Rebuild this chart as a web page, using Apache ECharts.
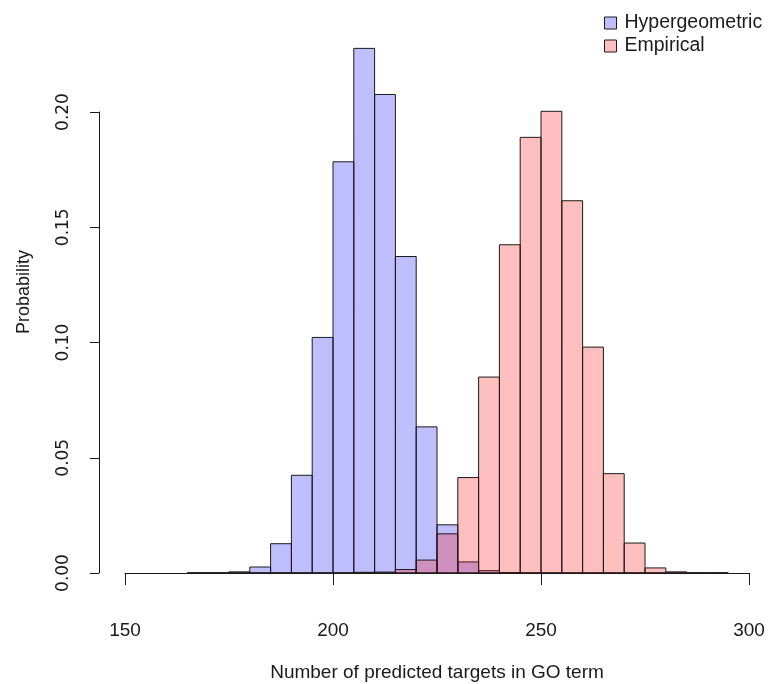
<!DOCTYPE html>
<html>
<head>
<meta charset="utf-8">
<script src="https://cdn.jsdelivr.net/npm/echarts@6/dist/echarts.min.js"></script>
<style>
  html, body { margin: 0; padding: 0; background: #fff; }
  #chart { width: 769px; height: 684px; }
</style>
</head>
<body>
<div id="chart"></div>
<script>
// histogram bins (left edges), width 5
var binStart = [165, 170, 175, 180, 185, 190, 195, 200, 205, 210, 215, 220, 225,
                230, 235, 240, 245, 250, 255, 260, 265, 270, 275, 280, 285, 290];
var binWidth = 5;
var hyperProb = [0, 0, 0.0005, 0.0026, 0.0127, 0.0424, 0.1022, 0.1784, 0.2276, 0.2076, 0.1373, 0.0634, 0.0209,
                 0.0048, 0.0010, 0.0002, 0, 0, 0, 0, 0, 0, 0, 0, 0, 0];
var empProb = [0, 0, 0, 0, 0, 0, 0, 0, 0.0003, 0.0004, 0.0015, 0.0056, 0.0170,
               0.0414, 0.0850, 0.1424, 0.1890, 0.2003, 0.1615, 0.0980, 0.0431, 0.0130, 0.0022, 0.0005, 0, 0];
var xTicks = [150, 200, 250, 300];
var yTicks = [0, 0.05, 0.10, 0.15, 0.20];

(function () {
  var myEcharts = echarts.init(document.getElementById('chart'));

  var blueFill = 'rgba(0,0,255,0.25)';
  var redFill = 'rgba(255,0,0,0.25)';
  var ink = '#1a1a1a';

  function toRows(vals) {
    return binStart.map(function (b, i) { return [b, b + binWidth, vals[i]]; });
  }

  // each bin is a rect: [left, right, height]
  function histItem(fill) {
    return function (params, api) {
      var p0 = api.coord([api.value(0), 0]);
      var p1 = api.coord([api.value(1), api.value(2)]);
      return {
        type: 'rect',
        shape: { x: p0[0], y: p1[1], width: p1[0] - p0[0], height: p0[1] - p1[1] },
        style: { fill: fill, stroke: ink, lineWidth: 1 }
      };
    };
  }

  var option = {
    animation: false,
    backgroundColor: '#fff',
    textStyle: { fontFamily: 'Liberation Sans, Arial, sans-serif' },
    grid: { left: 125, right: 20, top: 112, bottom: 111, outerBoundsMode: 'none' },
    legend: {
      orient: 'vertical',
      left: 599,
      top: 8,
      itemWidth: 12,
      itemHeight: 12,
      itemGap: 3,
      icon: 'rect',
      textStyle: { fontSize: 19.5, color: ink, padding: [0, 0, 0, 3], fontFamily: 'Liberation Sans, Arial, sans-serif' },
      data: [
        { name: 'Hypergeometric', itemStyle: { color: blueFill, borderColor: ink, borderWidth: 1 } },
        { name: 'Empirical', itemStyle: { color: redFill, borderColor: ink, borderWidth: 1 } }
      ]
    },
    xAxis: {
      type: 'value',
      min: xTicks[0],
      max: xTicks[xTicks.length - 1],
      interval: 50,
      offset: 26,
      name: 'Number of predicted targets in GO term',
      nameLocation: 'middle',
      nameGap: 64,
      nameTextStyle: { fontSize: 19, color: ink },
      axisLine: { show: true, lineStyle: { color: ink, width: 1 } },
      axisTick: { show: true, length: 12, lineStyle: { color: ink } },
      axisLabel: { fontSize: 19, color: ink, margin: 22 },
      splitLine: { show: false }
    },
    yAxis: {
      type: 'value',
      min: yTicks[0],
      max: yTicks[yTicks.length - 1],
      interval: 0.05,
      offset: 26,
      axisLine: { show: true, lineStyle: { color: ink, width: 1 } },
      axisTick: { show: true, length: 9, lineStyle: { color: ink } },
      axisLabel: {
        fontSize: 17,
        color: ink,
        rotate: 90,
        margin: 27,
        fontFamily: 'DejaVu Sans, sans-serif',
        formatter: function (v) { return v.toFixed(2); }
      },
      splitLine: { show: false }
    },
    graphic: [
      {
        type: 'text',
        x: 24,
        y: 292,
        rotation: Math.PI / 2,
        style: {
          text: 'Probability',
          fontSize: 18,
          fill: ink,
          fontFamily: 'Liberation Sans, Arial, sans-serif',
          textAlign: 'center',
          textVerticalAlign: 'middle'
        }
      }
    ],
    series: [
      {
        name: 'Hypergeometric',
        type: 'custom',
        clip: false,
        itemStyle: { color: blueFill },
        renderItem: histItem(blueFill),
        encode: { x: [0, 1], y: 2 },
        data: toRows(hyperProb)
      },
      {
        name: 'Empirical',
        type: 'custom',
        clip: false,
        itemStyle: { color: redFill },
        renderItem: histItem(redFill),
        encode: { x: [0, 1], y: 2 },
        data: toRows(empProb)
      }
    ]
  };

  myEcharts.setOption(option);
  window.addEventListener('resize', function () {
    myEcharts.resize();
  });
})();
</script>
</body>
</html>
